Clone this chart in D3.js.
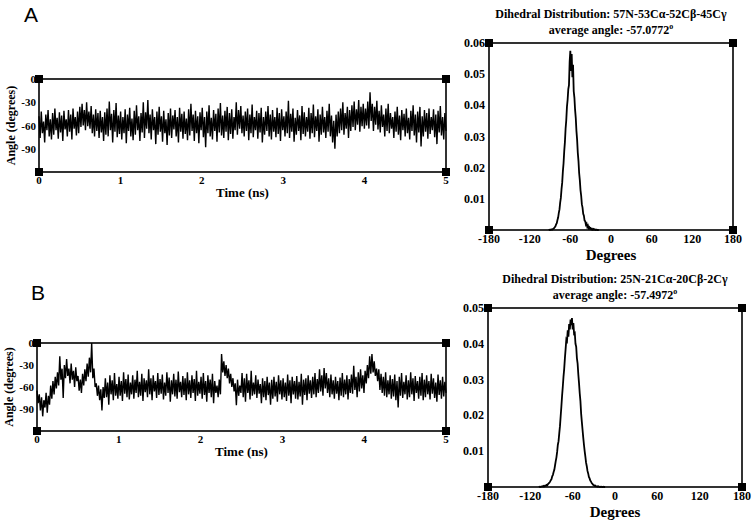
<!DOCTYPE html>
<html>
<head>
<meta charset="utf-8">
<script src="https://cdn.jsdelivr.net/npm/d3@7"></script>
<style>
  body { margin: 0; background: #fff; }
  svg { display: block; }
</style>
</head>
<body>
<svg id="fig" width="754" height="520"></svg>
<script>
/* Dihedral time series + distribution, panels A and B */

// time-series values (degrees), evenly spaced over 0..5 ns
const seriesA = [
  -48,-76,-42,-70,-55,-82,-46,-66,-40,-74,-52,-78,
  -44,-72,-38,-66,-50,-77,-43,-69,-47,-80,-41,-65,
  -52,-74,-40,-68,-46,-78,-38,-64,-49,-73,-42,-70,
  -36,-62,-32,-60,-40,-66,-30,-61,-42,-64,-35,-70,
  -46,-74,-39,-67,-44,-76,-41,-69,-49,-80,-43,-72,
  -38,-74,-29,-66,-45,-82,-40,-68,-31,-75,-47,-71,
  -42,-78,-49,-70,-39,-83,-46,-67,-37,-74,-51,-79,
  -41,-72,-34,-66,-48,-80,-44,-69,-30,-76,-43,-64,
  -27,-70,-46,-78,-39,-66,-49,-84,-42,-72,-36,-68,
  -48,-81,-41,-70,-52,-85,-44,-73,-38,-76,-47,-65,
  -40,-74,-49,-82,-37,-68,-45,-77,-42,-71,-51,-79,
  -39,-73,-32,-67,-46,-80,-41,-70,-48,-83,-43,-66,
  -37,-75,-49,-88,-42,-70,-34,-74,-50,-78,-40,-67,
  -45,-81,-38,-69,-31,-73,-47,-76,-41,-68,-36,-79,
  -44,-71,-39,-77,-49,-66,-30,-72,-40,-64,-35,-70,
  -47,-74,-42,-67,-38,-79,-46,-70,-33,-75,-49,-66,
  -41,-77,-44,-69,-37,-82,-49,-72,-42,-67,-35,-74,
  -46,-78,-40,-68,-49,-75,-37,-71,-44,-80,-39,-66,
  -48,-74,-42,-70,-28,-76,-45,-68,-38,-81,-50,-72,
  -40,-67,-47,-79,-35,-71,-43,-74,-49,-68,-37,-77,
  -44,-70,-33,-75,-48,-67,-39,-81,-46,-72,-36,-69,
  -49,-76,-41,-68,-32,-74,-47,-82,-54,-90,-46,-74,
  -42,-70,-38,-66,-30,-72,-44,-64,-36,-76,-40,-67,
  -34,-62,-29,-66,-39,-59,-27,-68,-36,-61,-32,-64,
  -38,-60,-29,-64,-17,-54,-32,-67,-36,-59,-28,-65,
  -41,-69,-34,-62,-46,-74,-38,-67,-32,-70,-44,-64,
  -49,-76,-42,-68,-36,-72,-47,-79,-40,-66,-45,-74,
  -38,-70,-50,-78,-41,-67,-34,-73,-46,-82,-42,-69,
  -36,-87,-48,-74,-40,-68,-44,-77,-38,-71,-49,-66,
  -39,-75,-46,-84,-41,-69,-35,-73,-49,-78,-44,-67
];

const seriesB = [
  -65,-82,-70,-92,-74,-100,-78,-88,-68,-95,-72,-84,
  -58,-76,-52,-70,-46,-62,-40,-58,-18,-50,-35,-75,
  -30,-48,-22,-45,-35,-55,-28,-50,-38,-60,-33,-52,
  -45,-65,-50,-68,-42,-58,-36,-52,-28,-46,-20,-40,
  0,-48,-35,-60,-55,-72,-58,-78,-63,-92,-60,-75,
  -48,-74,-54,-84,-44,-70,-51,-78,-41,-72,-56,-76,
  -46,-72,-52,-79,-40,-69,-49,-74,-43,-77,-54,-70,
  -44,-76,-50,-68,-38,-74,-53,-72,-42,-79,-48,-67,
  -51,-74,-36,-70,-48,-78,-44,-66,-52,-75,-41,-71,
  -49,-69,-43,-77,-54,-72,-40,-68,-47,-80,-51,-70,
  -42,-73,-50,-76,-39,-67,-53,-74,-45,-71,-48,-78,
  -40,-70,-51,-75,-44,-68,-49,-79,-38,-72,-53,-69,
  -46,-76,-41,-71,-52,-80,-44,-68,-50,-74,-42,-82,
  -52,-68,-58,-74,-50,-70,-15,-40,-25,-45,-30,-48,
  -35,-55,-42,-60,-48,-66,-55,-85,-50,-72,-58,-68,
  -41,-74,-48,-80,-42,-68,-51,-77,-38,-72,-54,-70,
  -44,-75,-50,-69,-56,-82,-48,-74,-52,-78,-46,-71,
  -54,-84,-50,-76,-46,-73,-53,-80,-44,-70,-51,-77,
  -48,-74,-54,-79,-43,-72,-51,-82,-46,-70,-52,-76,
  -45,-77,-53,-73,-42,-84,-50,-71,-48,-78,-44,-69,
  -51,-75,-46,-70,-41,-74,-49,-68,-36,-66,-44,-72,
  -34,-62,-41,-68,-48,-74,-43,-70,-51,-76,-46,-69,
  -52,-78,-47,-72,-41,-74,-50,-70,-44,-77,-49,-68,
  -43,-69,-31,-64,-46,-74,-40,-66,-36,-62,-44,-68,
  -38,-55,-30,-48,-18,-42,-15,-40,-25,-45,-35,-52,
  -36,-64,-42,-68,-46,-72,-40,-74,-51,-70,-44,-76,
  -49,-73,-43,-78,-52,-88,-46,-72,-41,-75,-53,-70,
  -44,-77,-51,-74,-40,-70,-48,-79,-45,-68,-52,-76,
  -46,-72,-41,-78,-50,-74,-44,-70,-52,-77,-42,-69,
  -48,-75,-54,-80,-43,-71,-51,-76,-46,-73,-53,-68
];

// histogram values, one per 1-degree bin, starting at histStartA / histStartB
const histStartA = -92;
const histA = [
  0,0.0001,0,0.0001,0.0002,0.0001,0.0003,0.0004,0.0006,0.0009,
  0.0012,0.0018,0.0022,0.0032,0.0040,0.0055,0.0066,0.0088,0.0103,0.0131,
  0.0152,0.0188,0.0214,0.0253,0.0282,0.0325,0.0352,0.0395,0.0418,0.0452,
  0.0465,0.0540,0.0575,0.0510,0.0565,0.0490,0.0530,0.0445,0.0425,0.0386,
  0.0360,0.0318,0.0290,0.0248,0.0222,0.0183,0.0160,0.0128,0.0110,0.0083,
  0.0072,0.0052,0.0046,0.0030,0.0028,0.0017,0.0020,0.0010,0.0014,0.0006,
  0.0009,0.0004,0.0006,0.0002,0.0004,0.0001,0.0003,0.0001,0.0002,0,
  0.0001,0.0001,0,0,0
];

const histStartB = -108;
const histB = [
  0,0.0001,0,0.0001,0.0001,0.0002,0.0001,0.0003,0.0002,0.0004,
  0.0003,0.0006,0.0005,0.0008,0.0010,0.0012,0.0015,0.0019,0.0022,0.0030,
  0.0034,0.0042,0.0048,0.0060,0.0072,0.0083,0.0098,0.0118,0.0128,0.0150,
  0.0170,0.0198,0.0225,0.0255,0.0280,0.0308,0.0330,0.0360,0.0385,0.0412,
  0.0408,0.0438,0.0420,0.0455,0.0440,0.0468,0.0452,0.0472,0.0440,0.0458,
  0.0428,0.0430,0.0400,0.0392,0.0360,0.0345,0.0315,0.0290,0.0262,0.0240,
  0.0205,0.0182,0.0160,0.0138,0.0118,0.0100,0.0085,0.0068,0.0058,0.0045,
  0.0038,0.0028,0.0024,0.0018,0.0015,0.0011,0.0009,0.0006,0.0005,0.0003,
  0.0004,0.0002,0.0002,0.0001,0.0002,0.0001,0,0.0001,0,0.0001,
  0,0,0.0001,0,0
];

const timeTicks = [0, 1, 2, 3, 4, 5];
const angleTicks = [0, -30, -60, -90];
const degreeTicks = [-180, -120, -60, 0, 60, 120, 180];
const probTicksA = [0.01, 0.02, 0.03, 0.04, 0.05, 0.06];
const probTicksB = [0.01, 0.02, 0.03, 0.04, 0.05];

const titleA = 'Dihedral Distribution: 57N-53Cα-52Cβ-45Cγ';
const titleB = 'Dihedral Distribution: 25N-21Cα-20Cβ-2Cγ';
const avgA = '-57.0772';
const avgB = '-57.4972';

const svg = d3.select('#fig');
const SERIF = '"Liberation Serif", "DejaVu Serif", serif';

function corners(g, x0, x1, y0, y1) {
  const s = 8;
  [[x0, y0], [x1, y0], [x0, y1], [x1, y1]].forEach(([cx, cy]) => {
    g.append('rect')
      .attr('x', cx - s / 2).attr('y', cy - s / 2)
      .attr('width', s).attr('height', s)
      .attr('fill', '#000');
  });
}

function boxFrame(g, x0, x1, y0, y1) {
  g.append('rect')
    .attr('x', x0).attr('y', y0)
    .attr('width', x1 - x0).attr('height', y1 - y0)
    .attr('fill', 'none')
    .attr('stroke', '#000')
    .attr('stroke-width', 1.6);
}

function drawSeries(opts) {
  const { data, left, right, top, bottom } = opts;
  const g = svg.append('g');
  const x = d3.scaleLinear().domain([0, 5]).range([left, right]);
  const y = d3.scaleLinear().domain([-120, 0]).range([bottom, top]);
  const step = 5 / (data.length - 1);

  g.append('path')
    .datum(data)
    .attr('fill', 'none')
    .attr('stroke', '#000')
    .attr('stroke-width', 1.4)
    .attr('d', d3.line().x((d, i) => x(i * step)).y(d => y(d)));

  boxFrame(g, left, right, top, bottom);

  g.selectAll('.yt').data(angleTicks).join('text')
    .attr('x', left - 3).attr('y', d => y(d) + 4)
    .attr('text-anchor', 'end')
    .attr('font-family', SERIF).attr('font-weight', 'bold').attr('font-size', 11)
    .text(d => d);

  g.selectAll('.xt').data(timeTicks).join('text')
    .attr('x', d => x(d)).attr('y', bottom + 12)
    .attr('text-anchor', 'middle')
    .attr('font-family', SERIF).attr('font-weight', 'bold').attr('font-size', 11)
    .text(d => d);

  g.append('text')
    .attr('x', (left + right) / 2).attr('y', bottom + 25)
    .attr('text-anchor', 'middle')
    .attr('font-family', SERIF).attr('font-weight', 'bold').attr('font-size', 13)
    .text('Time (ns)');

  g.append('text')
    .attr('transform', `translate(${left - 24},${(top + bottom) / 2}) rotate(-90)`)
    .attr('text-anchor', 'middle')
    .attr('font-family', SERIF).attr('font-weight', 'bold').attr('font-size', 12)
    .text('Angle (degrees)');

  corners(g, left, right, top, bottom);
}

function drawHist(opts) {
  const { data, start, ymax, ticks, left, right, top, bottom, title, avg } = opts;
  const g = svg.append('g');
  const x = d3.scaleLinear().domain([-180, 180]).range([left, right]);
  const y = d3.scaleLinear().domain([0, ymax]).range([bottom, top]);

  g.append('path')
    .datum(data)
    .attr('fill', 'none')
    .attr('stroke', '#000')
    .attr('stroke-width', 1.8)
    .attr('d', d3.line().x((d, i) => x(start + i)).y(d => y(d)));

  boxFrame(g, left, right, top, bottom);

  g.selectAll('.yt').data(ticks).join('text')
    .attr('x', left - 4).attr('y', d => y(d) + 4)
    .attr('text-anchor', 'end')
    .attr('font-family', SERIF).attr('font-weight', 'bold').attr('font-size', 12)
    .text(d => d.toFixed(2));

  g.selectAll('.xt').data(degreeTicks).join('text')
    .attr('x', d => x(d)).attr('y', bottom + 13)
    .attr('text-anchor', 'middle')
    .attr('font-family', SERIF).attr('font-weight', 'bold').attr('font-size', 12)
    .text(d => d);

  g.append('text')
    .attr('x', (left + right) / 2).attr('y', bottom + 30)
    .attr('text-anchor', 'middle')
    .attr('font-family', SERIF).attr('font-weight', 'bold').attr('font-size', 15)
    .text('Degrees');

  const cx = (left + right) / 2;
  g.append('text')
    .attr('x', cx).attr('y', top - 25)
    .attr('text-anchor', 'middle')
    .attr('font-family', SERIF).attr('font-weight', 'bold').attr('font-size', 12)
    .text(title);

  const t2 = g.append('text')
    .attr('x', cx).attr('y', top - 9)
    .attr('text-anchor', 'middle')
    .attr('font-family', SERIF).attr('font-weight', 'bold').attr('font-size', 12);
  t2.append('tspan').text('average angle: ' + avg);
  t2.append('tspan').attr('dy', -5).attr('font-size', 8).text('o');

  corners(g, left, right, top, bottom);
}

// panel letters
svg.append('text').attr('x', 24).attr('y', 22)
  .attr('font-family', '"Liberation Sans", Arial, sans-serif').attr('font-size', 21)
  .text('A');
svg.append('text').attr('x', 31).attr('y', 300)
  .attr('font-family', '"Liberation Sans", Arial, sans-serif').attr('font-size', 21)
  .text('B');

drawSeries({ data: seriesA, left: 39, right: 446, top: 79, bottom: 172 });
drawHist({ data: histA, start: histStartA, ymax: 0.06, ticks: probTicksA,
  left: 489, right: 733, top: 43, bottom: 230, title: titleA, avg: avgA });

drawSeries({ data: seriesB, left: 37, right: 446, top: 343, bottom: 431 });
drawHist({ data: histB, start: histStartB, ymax: 0.05, ticks: probTicksB,
  left: 488, right: 742, top: 308, bottom: 487, title: titleB, avg: avgB });
</script>
</body>
</html>
